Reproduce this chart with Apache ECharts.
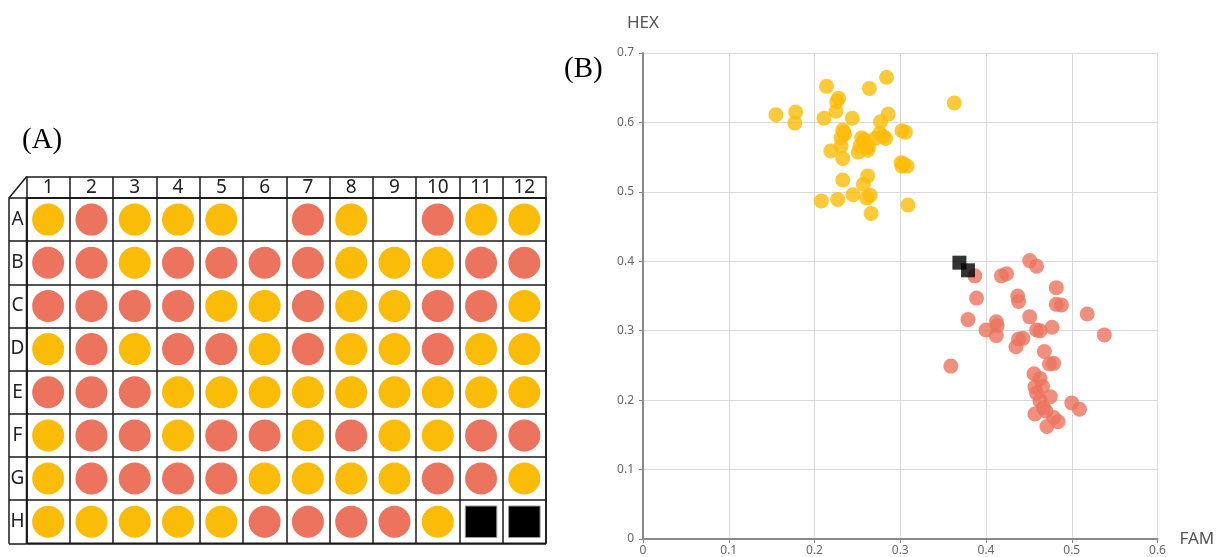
<!DOCTYPE html>
<html>
<head>
<meta charset="utf-8">
<script src="https://cdn.jsdelivr.net/npm/echarts@6/dist/echarts.min.js"></script>
<style>
  html, body { margin: 0; padding: 0; background: #fff; }
  #chart { width: 1218px; height: 557px; }
</style>
</head>
<body>
<div id="chart"></div>
<script>
// ---- Plate layout (A): Y = yellow call, R = red call, N = no-template control, - = empty well
const plateColumns = ['1', '2', '3', '4', '5', '6', '7', '8', '9', '10', '11', '12'];
const plateRows = ['A', 'B', 'C', 'D', 'E', 'F', 'G', 'H'];
const plateCalls = [
  'YRYYY-RY-RYY',
  'RRYRRRRYYYRR',
  'RRRRYYRYYRRY',
  'YRYRRYRYYRYY',
  'RRRYYYYYYYYY',
  'YRRYRRYRYYRR',
  'YRRRRYYYYRRY',
  'YYYYYRRRRYNN'
];

// ---- Scatter (B): [FAM, HEX] endpoint signals
const clusterYellow = [
  [0.155, 0.611], [0.178, 0.615], [0.177, 0.599], [0.214, 0.652], [0.228, 0.635],
  [0.226, 0.630], [0.225, 0.616], [0.211, 0.606], [0.244, 0.606], [0.264, 0.649],
  [0.284, 0.665], [0.286, 0.612], [0.277, 0.601], [0.233, 0.589], [0.234, 0.586],
  [0.231, 0.578], [0.231, 0.566], [0.219, 0.559], [0.233, 0.548], [0.255, 0.578],
  [0.257, 0.571], [0.253, 0.566], [0.261, 0.564], [0.251, 0.557], [0.263, 0.565],
  [0.271, 0.577], [0.276, 0.584], [0.283, 0.577], [0.302, 0.588], [0.306, 0.586],
  [0.301, 0.542], [0.302, 0.537], [0.308, 0.537], [0.233, 0.517], [0.262, 0.523],
  [0.257, 0.511], [0.245, 0.496], [0.261, 0.491], [0.265, 0.495], [0.208, 0.487],
  [0.227, 0.489], [0.266, 0.469], [0.309, 0.481], [0.363, 0.628], [0.258, 0.575],
  [0.235, 0.583], [0.304, 0.540], [0.262, 0.560], [0.280, 0.580]
];
const clusterRed = [
  [0.387, 0.379], [0.389, 0.347], [0.379, 0.316], [0.359, 0.249], [0.400, 0.301],
  [0.412, 0.313], [0.413, 0.307], [0.412, 0.293], [0.418, 0.379], [0.424, 0.382],
  [0.451, 0.401], [0.459, 0.393], [0.437, 0.350], [0.438, 0.342], [0.451, 0.320],
  [0.438, 0.288], [0.443, 0.289], [0.435, 0.277], [0.459, 0.301], [0.463, 0.300],
  [0.477, 0.305], [0.482, 0.362], [0.482, 0.338], [0.488, 0.337], [0.518, 0.324],
  [0.538, 0.294], [0.468, 0.270], [0.474, 0.252], [0.479, 0.253], [0.456, 0.238],
  [0.463, 0.231], [0.457, 0.219], [0.466, 0.220], [0.459, 0.210], [0.475, 0.205],
  [0.463, 0.199], [0.467, 0.189], [0.500, 0.196], [0.509, 0.187], [0.457, 0.180],
  [0.470, 0.184], [0.479, 0.175], [0.484, 0.169], [0.471, 0.162]
];
const ntcPoints = [[0.369, 0.398], [0.379, 0.387]];

const famTicks = { min: 0, max: 0.6, interval: 0.1 };
const hexTicks = { min: 0, max: 0.7, interval: 0.1 };

const YELLOW = '#FBBC08';
const RED = '#EC735E';
const LINE = '#1a1a1a';

// Split the plate layout into well lists per call
const wells = { Y: [], R: [], N: [] };
plateCalls.forEach((row, r) => {
  row.split('').forEach((c, col) => {
    if (wells[c]) wells[c].push([plateColumns[col], plateRows[r]]);
  });
});

const sansFont = '"Noto Sans", "Open Sans", sans-serif';
const serifFont = '"Liberation Serif", "DejaVu Serif", serif';

const plateGrid = { left: 26.5, top: 198, width: 519.5, height: 345.3 };
const scatterGrid = { left: 643, top: 53, width: 514.5, height: 488.5 };

const option = {
  animation: false,
  backgroundColor: '#fff',
  title: [
    { text: '(A)', left: 17, top: 121, textStyle: { fontFamily: serifFont, fontSize: 29, fontWeight: 'normal', color: '#000' } },
    { text: '(B)', left: 559, top: 50, textStyle: { fontFamily: serifFont, fontSize: 29, fontWeight: 'normal', color: '#000' } }
  ],
  grid: [
    Object.assign({ show: true, borderColor: LINE, borderWidth: 1.5, backgroundColor: 'transparent' }, plateGrid),
    Object.assign({ show: false }, scatterGrid)
  ],
  xAxis: [
    {
      gridIndex: 0, type: 'category', data: plateColumns, position: 'top',
      axisLine: { show: true, lineStyle: { color: LINE, width: 1.5 } },
      axisTick: { show: true, interval: 0, length: 21.3, lineStyle: { color: LINE, width: 1.5 } },
      axisLabel: { interval: 0, margin: 10.5, verticalAlign: 'middle', fontFamily: sansFont, fontSize: 19, color: '#222' },
      splitLine: { show: true, interval: 0, lineStyle: { color: LINE, width: 1.5 } }
    },
    {
      // outer top edge of the column header row
      gridIndex: 0, type: 'category', data: plateColumns, position: 'top', offset: 21.3,
      axisLine: { show: true, lineStyle: { color: LINE, width: 1.5 } },
      axisTick: { show: false }, axisLabel: { show: false }, splitLine: { show: false }
    },
    {
      gridIndex: 1, type: 'value', min: famTicks.min, max: famTicks.max, interval: famTicks.interval,
      name: 'FAM', nameLocation: 'end', nameGap: 22,
      nameTextStyle: { fontFamily: sansFont, fontSize: 17, color: '#555', verticalAlign: 'middle' },
      axisLine: { show: true, onZero: false, lineStyle: { color: '#8a8a8a', width: 2 } },
      axisTick: { show: true, length: 4, lineStyle: { color: '#8a8a8a' } },
      axisLabel: { margin: 6, fontFamily: sansFont, fontSize: 12, color: '#666' },
      splitLine: { show: true, lineStyle: { color: '#d9d9d9', width: 1 } }
    }
  ],
  yAxis: [
    {
      gridIndex: 0, type: 'category', data: plateRows, inverse: true, position: 'left',
      axisLine: { show: true, lineStyle: { color: LINE, width: 1.5 } },
      axisTick: { show: true, interval: 0, length: 17.5, lineStyle: { color: LINE, width: 1.5 } },
      axisLabel: { interval: 0, margin: 9, align: 'center', fontFamily: sansFont, fontSize: 19, color: '#222' },
      splitLine: { show: true, interval: 0, lineStyle: { color: LINE, width: 1.5 } }
    },
    {
      // outer left edge of the row label column
      gridIndex: 0, type: 'category', data: plateRows, inverse: true, position: 'left', offset: 17.5,
      axisLine: { show: true, lineStyle: { color: LINE, width: 1.5 } },
      axisTick: { show: false }, axisLabel: { show: false }, splitLine: { show: false }
    },
    {
      gridIndex: 1, type: 'value', min: hexTicks.min, max: hexTicks.max, interval: hexTicks.interval,
      position: 'left',
      name: 'HEX', nameLocation: 'end', nameGap: 21,
      nameTextStyle: { fontFamily: sansFont, fontSize: 17, color: '#555', align: 'center' },
      axisLine: { show: true, onZero: false, lineStyle: { color: '#8a8a8a', width: 2 } },
      axisTick: { show: true, length: 4, lineStyle: { color: '#8a8a8a' } },
      axisLabel: { margin: 9, fontFamily: sansFont, fontSize: 12, color: '#666' },
      splitLine: { show: true, lineStyle: { color: '#d9d9d9', width: 1 } }
    }
  ],
  graphic: [
    // slanted corner of the plate header
    { type: 'line', shape: { x1: 9, y1: 198, x2: 26.5, y2: 176.7 }, style: { stroke: LINE, lineWidth: 1.5 } }
  ],
  series: [
    { type: 'scatter', xAxisIndex: 0, yAxisIndex: 0, data: wells.Y, symbolSize: 32, itemStyle: { color: YELLOW, opacity: 1 } },
    { type: 'scatter', xAxisIndex: 0, yAxisIndex: 0, data: wells.R, symbolSize: 32, itemStyle: { color: RED, opacity: 1 } },
    { type: 'scatter', xAxisIndex: 0, yAxisIndex: 0, data: wells.N, symbol: 'rect', symbolSize: 31.5, itemStyle: { color: '#000', borderColor: '#9a9a9a', borderWidth: 1, opacity: 1 } },

    { type: 'scatter', xAxisIndex: 2, yAxisIndex: 2, data: clusterYellow, symbolSize: 15, itemStyle: { color: YELLOW, opacity: 0.8 } },
    { type: 'scatter', xAxisIndex: 2, yAxisIndex: 2, data: clusterRed, symbolSize: 15, itemStyle: { color: RED, opacity: 0.8 } },
    { type: 'scatter', xAxisIndex: 2, yAxisIndex: 2, data: ntcPoints, symbol: 'rect', symbolSize: 14, itemStyle: { color: '#000', opacity: 0.8 } }
  ]
};

const chart = echarts.init(document.getElementById('chart'), null, { renderer: 'canvas' });
chart.setOption(option);
</script>
</body>
</html>
